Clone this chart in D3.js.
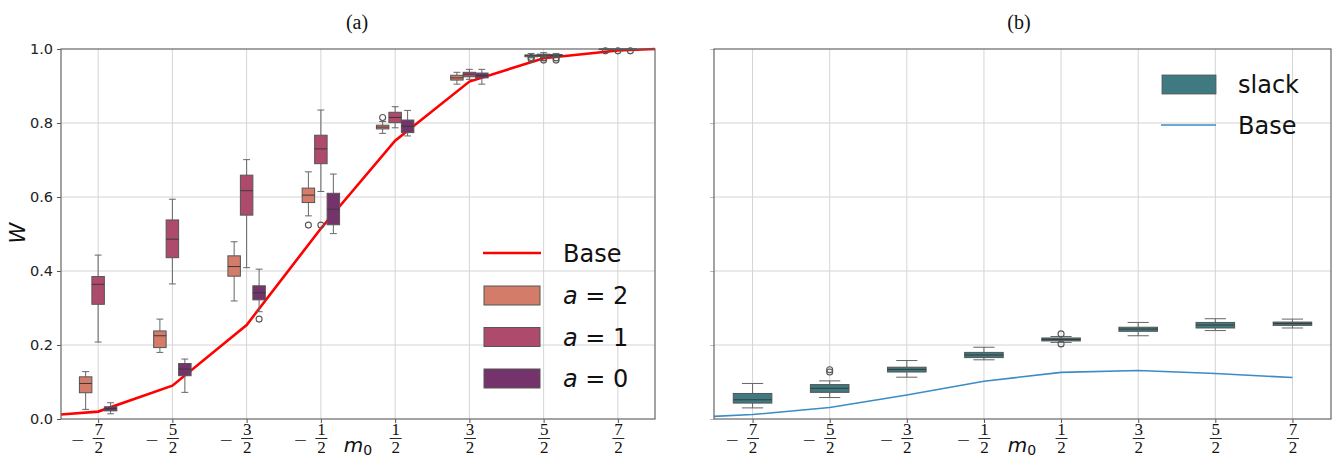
<!DOCTYPE html>
<html><head><meta charset="utf-8">
<script src="https://cdn.jsdelivr.net/npm/d3@7"></script>
<style>body{margin:0;background:#fff}</style>
</head><body>
<svg id="c" width="1335" height="457"></svg>
<script>
// ---------------- DATA ----------------
const cats = [-3.5, -2.5, -1.5, -0.5, 0.5, 1.5, 2.5, 3.5];
const xTickLabels = ["−7/2", "−5/2", "−3/2", "−1/2", "1/2", "3/2", "5/2", "7/2"];
const yTicks = [0.0, 0.2, 0.4, 0.6, 0.8, 1.0];
const hueNames = ["2", "1", "0"];   // a = 2, a = 1, a = 0

// [lowWhisker, q1, median, q3, highWhisker]
const a2Stats = [
  [0.026, 0.071, 0.096, 0.114, 0.128],
  [0.180, 0.193, 0.225, 0.238, 0.270],
  [0.319, 0.386, 0.412, 0.441, 0.479],
  [0.549, 0.585, 0.605, 0.624, 0.668],
  [0.772, 0.784, 0.789, 0.794, 0.804],
  [0.905, 0.916, 0.922, 0.929, 0.937],
  [0.976, 0.979, 0.982, 0.984, 0.988],
  [0.998, 0.999, 1.000, 1.000, 1.000]
];
const a2Out = [[], [], [], [0.524], [0.815], [], [0.972, 0.977], [0.995]];

const a1Stats = [
  [0.208, 0.310, 0.364, 0.385, 0.443],
  [0.365, 0.436, 0.486, 0.538, 0.594],
  [0.409, 0.551, 0.617, 0.659, 0.701],
  [0.615, 0.690, 0.730, 0.767, 0.835],
  [0.787, 0.801, 0.815, 0.829, 0.844],
  [0.918, 0.925, 0.932, 0.937, 0.945],
  [0.977, 0.980, 0.983, 0.986, 0.990],
  [0.998, 0.999, 1.000, 1.000, 1.000]
];
const a1Out = [[], [], [], [0.524], [], [], [0.970, 0.976], [0.995]];

const a0Stats = [
  [0.014, 0.022, 0.028, 0.033, 0.044],
  [0.072, 0.117, 0.135, 0.150, 0.162],
  [0.290, 0.322, 0.341, 0.360, 0.405],
  [0.501, 0.525, 0.567, 0.610, 0.662],
  [0.765, 0.774, 0.791, 0.808, 0.834],
  [0.905, 0.922, 0.928, 0.935, 0.945],
  [0.977, 0.980, 0.982, 0.985, 0.988],
  [0.998, 0.999, 1.000, 1.000, 1.000]
];
const a0Out = [[], [], [0.270], [], [], [], [0.970, 0.976], [0.995]];

const baseLeftM = [-4, -3.5, -2.5, -1.5, -0.5, 0.5, 1.5, 2.5, 3.5, 4];
const baseLeftW = [0.012, 0.020, 0.090, 0.254, 0.515, 0.752, 0.912, 0.975, 0.996, 1.000];

const slackStats = [
  [0.030, 0.043, 0.052, 0.069, 0.096],
  [0.058, 0.072, 0.083, 0.093, 0.103],
  [0.113, 0.127, 0.134, 0.140, 0.158],
  [0.160, 0.166, 0.173, 0.180, 0.194],
  [0.207, 0.211, 0.215, 0.219, 0.223],
  [0.225, 0.237, 0.243, 0.248, 0.261],
  [0.239, 0.246, 0.254, 0.261, 0.271],
  [0.246, 0.253, 0.258, 0.262, 0.270]
];
const slackOut = [[], [0.127, 0.133], [], [], [0.203, 0.230], [], [], []];

const baseRightM = [-4, -3.5, -2.5, -1.5, -0.5, 0.5, 1.5, 2.5, 3.5];
const baseRightW = [0.007, 0.012, 0.031, 0.065, 0.102, 0.126, 0.131, 0.123, 0.112];

// ---------------- STYLE ----------------
const hueColors = ["#d47c6a", "#ae4b6c", "#74336a"];
const slackColor = "#3e7a80";
const redColor = "#ff0000";
const blueColor = "#3b8cc4";
const gridColor = "#d4d4d4";
const edgeColor = "#555555";
const sans = "'DejaVu Sans', sans-serif";
const serif = "'Liberation Serif', 'DejaVu Serif', serif";

const svg = d3.select("#c");
const plotTop = 49, plotBottom = 419;
const y = d3.scaleLinear().domain([0, 1]).range([plotBottom, plotTop]);
const xL = d3.scaleLinear().domain([-4, 4]).range([61, 655]);
const xR = d3.scaleLinear().domain([-4, 4]).range([714, 1331]);

function panel(x, showYLabels, title, titleX) {
  const g = svg.append("g");
  const [x0, x1] = x.range();
  g.append("g").selectAll("line").data(cats).join("line")
    .attr("x1", d => x(d)).attr("x2", d => x(d)).attr("y1", plotTop).attr("y2", plotBottom)
    .attr("stroke", gridColor).attr("stroke-width", 1);
  g.append("g").selectAll("line").data(yTicks.slice(1, -1)).join("line")
    .attr("x1", x0).attr("x2", x1).attr("y1", d => y(d)).attr("y2", d => y(d))
    .attr("stroke", gridColor).attr("stroke-width", 1);
  const ya = g.append("g").attr("transform", `translate(${x0},0)`)
    .call(d3.axisLeft(y).tickValues(yTicks).tickSize(4).tickPadding(4)
      .tickFormat(showYLabels ? d3.format(".1f") : () => ""));
  ya.select(".domain").remove();
  ya.selectAll(".tick line").attr("stroke", showYLabels ? "#555" : "#bbb");
  ya.selectAll(".tick text").attr("font-family", sans).attr("font-size", 14.5).attr("fill", "#222");
  const xa = g.append("g").attr("transform", `translate(0,${plotBottom})`)
    .call(d3.axisBottom(x).tickValues(cats).tickSize(4).tickFormat(() => ""));
  xa.select(".domain").remove();
  xa.selectAll(".tick line").attr("stroke", "#555");
  xa.selectAll(".tick").each(function (d, i) {
    const t = d3.select(this);
    const lab = xTickLabels[i];
    const neg = lab.startsWith("−");
    const [num, den] = lab.replace("−", "").split("/");
    if (neg) t.append("text").attr("x", -21).attr("y", 27).attr("text-anchor", "middle")
      .attr("font-family", sans).attr("font-size", 17).attr("font-weight", 300).attr("fill", "#111").text("−");
    t.append("text").attr("x", 0).attr("y", 16).attr("text-anchor", "middle")
      .attr("font-family", serif).attr("font-size", 17).attr("fill", "#111").text(num);
    t.append("line").attr("x1", -6).attr("x2", 6).attr("y1", 19.5).attr("y2", 19.5)
      .attr("stroke", "#111").attr("stroke-width", 0.9);
    t.append("text").attr("x", 0).attr("y", 33.5).attr("text-anchor", "middle")
      .attr("font-family", serif).attr("font-size", 17).attr("fill", "#111").text(den);
  });
  svg.append("text").attr("x", titleX).attr("y", 29).attr("text-anchor", "middle")
    .attr("font-family", serif).attr("font-size", 20).attr("fill", "#111").text(title);
  return g;
}

function drawBox(g, x, cx, halfW, s, outs, color) {
  const capHalf = halfW * 0.55;
  const wc = "#666";
  g.append("line").attr("x1", x(cx)).attr("x2", x(cx)).attr("y1", y(s[0])).attr("y2", y(s[1])).attr("stroke", wc);
  g.append("line").attr("x1", x(cx)).attr("x2", x(cx)).attr("y1", y(s[3])).attr("y2", y(s[4])).attr("stroke", wc);
  [s[0], s[4]].forEach(v => g.append("line")
    .attr("x1", x(cx - capHalf)).attr("x2", x(cx + capHalf)).attr("y1", y(v)).attr("y2", y(v)).attr("stroke", wc));
  g.append("rect").attr("x", x(cx - halfW)).attr("y", y(s[3]))
    .attr("width", x(cx + halfW) - x(cx - halfW)).attr("height", Math.max(0.6, y(s[1]) - y(s[3])))
    .attr("fill", color).attr("stroke", edgeColor).attr("stroke-width", 1);
  g.append("line").attr("x1", x(cx - halfW)).attr("x2", x(cx + halfW)).attr("y1", y(s[2])).attr("y2", y(s[2]))
    .attr("stroke", "#3a3a3a").attr("stroke-width", 1);
  outs.forEach(v => g.append("circle").attr("cx", x(cx)).attr("cy", y(v)).attr("r", 3)
    .attr("fill", "none").attr("stroke", edgeColor).attr("stroke-width", 1.1));
}

// ---------------- LEFT PANEL ----------------
const gL = panel(xL, true, "(a)", 357);
const lineGen = (x) => d3.line().x(d => x(d[0])).y(d => y(d[1]));
gL.append("path").datum(baseLeftM.map((m, i) => [m, baseLeftW[i]]))
  .attr("d", lineGen(xL)).attr("fill", "none").attr("stroke", redColor).attr("stroke-width", 2.6);
const hw = 0.084;
const allStats = [a2Stats, a1Stats, a0Stats];
const allOut = [a2Out, a1Out, a0Out];
cats.forEach((c, i) => {
  [-1, 0, 1].forEach((o, h) => {
    drawBox(gL, xL, c + o * 2 * hw, hw, allStats[h][i], allOut[h][i], hueColors[h]);
  });
});
gL.append("rect").attr("x", 61).attr("y", plotTop).attr("width", 655 - 61).attr("height", plotBottom - plotTop)
  .attr("fill", "none").attr("stroke", "#666").attr("stroke-width", 1.2);

svg.append("text").attr("transform", "translate(25,233) rotate(-90)").attr("text-anchor", "middle")
  .attr("font-family", sans).attr("font-style", "italic").attr("font-size", 21).attr("fill", "#111").text("W");
function mLabel(xc) {
  const t = svg.append("text").attr("x", xc).attr("y", 452).attr("text-anchor", "middle")
    .attr("font-family", sans).attr("font-size", 20).attr("fill", "#111");
  t.append("tspan").attr("font-style", "italic").text("m");
  t.append("tspan").attr("font-size", 14).attr("dy", 3).text("0");
}
mLabel(358);

const legL = svg.append("g");
legL.append("line").attr("x1", 483).attr("x2", 541).attr("y1", 253).attr("y2", 253)
  .attr("stroke", redColor).attr("stroke-width", 2.6);
legL.append("text").attr("x", 563).attr("y", 262).attr("font-family", sans).attr("font-size", 24)
  .attr("fill", "#111").text("Base");
hueNames.forEach((n, h) => {
  const yc = 295.5 + h * 41.5;
  legL.append("rect").attr("x", 484).attr("y", yc - 9.5).attr("width", 56).attr("height", 19)
    .attr("fill", hueColors[h]).attr("stroke", edgeColor).attr("stroke-width", 1);
  const t = legL.append("text").attr("x", 563).attr("y", yc + 8.5).attr("font-family", sans)
    .attr("font-size", 24).attr("fill", "#111");
  t.append("tspan").attr("font-style", "italic").text("a");
  t.append("tspan").text(" = " + n);
});

// ---------------- RIGHT PANEL ----------------
const gR = panel(xR, false, "(b)", 1019);
gR.append("path").datum(baseRightM.map((m, i) => [m, baseRightW[i]]))
  .attr("d", lineGen(xR)).attr("fill", "none").attr("stroke", blueColor).attr("stroke-width", 1.6);
cats.forEach((c, i) => drawBox(gR, xR, c, 0.25, slackStats[i], slackOut[i], slackColor));
gR.append("rect").attr("x", 714).attr("y", plotTop).attr("width", 1331 - 714).attr("height", plotBottom - plotTop)
  .attr("fill", "none").attr("stroke", "#666").attr("stroke-width", 1.2);
mLabel(1022);

const legR = svg.append("g");
legR.append("rect").attr("x", 1162).attr("y", 75).attr("width", 54).attr("height", 19)
  .attr("fill", slackColor).attr("stroke", edgeColor).attr("stroke-width", 0.8);
legR.append("text").attr("x", 1238).attr("y", 93).attr("font-family", sans).attr("font-size", 24)
  .attr("fill", "#111").text("slack");
legR.append("line").attr("x1", 1161).attr("x2", 1216).attr("y1", 125).attr("y2", 125)
  .attr("stroke", blueColor).attr("stroke-width", 1.6);
legR.append("text").attr("x", 1238).attr("y", 134).attr("font-family", sans).attr("font-size", 24)
  .attr("fill", "#111").text("Base");
</script></body></html>
